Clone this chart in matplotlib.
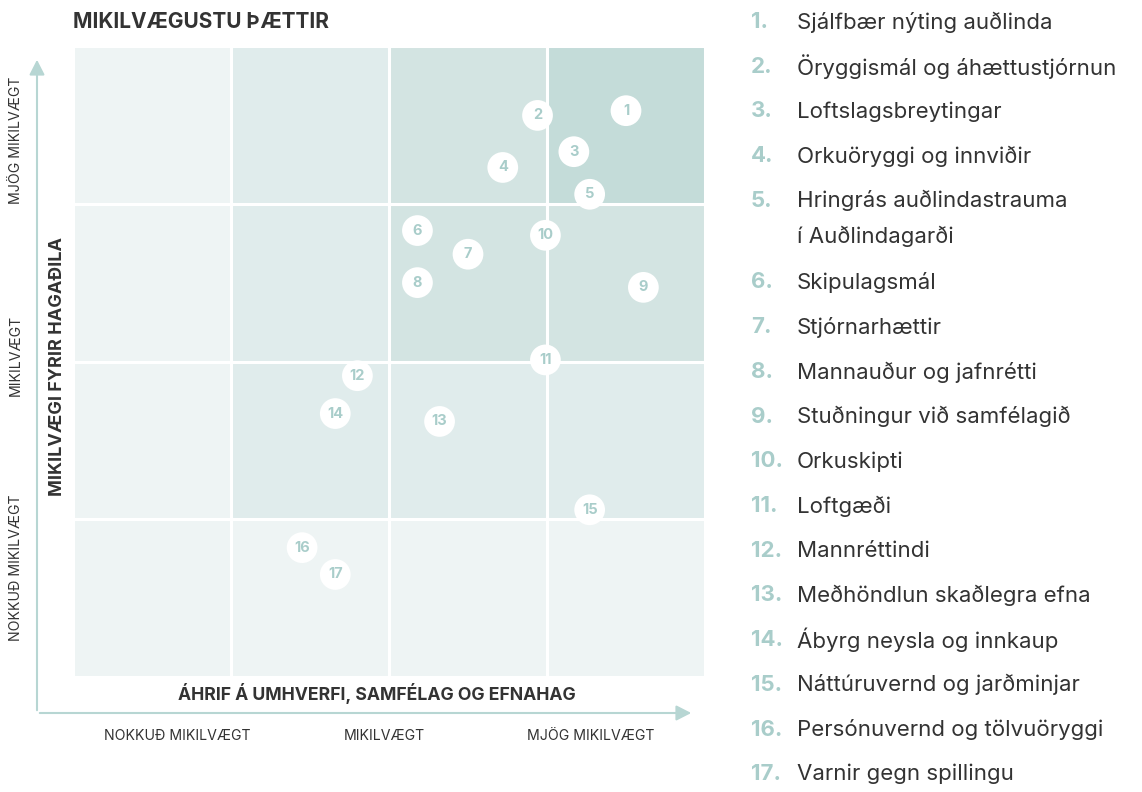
import matplotlib
matplotlib.use("Agg")
import matplotlib.pyplot as plt
from matplotlib.patches import Rectangle, FancyArrowPatch

plt.rcParams['font.family'] = ['Inter', 'DejaVu Sans']

# Gögn: staðsetning hvers þáttar (x = áhrif, y = mikilvægi fyrir hagaðila), kvarði 0-4
ids = list(range(1, 18))
impact = [3.50, 2.94, 3.17, 2.72, 3.27, 2.18, 2.50, 2.18, 3.61, 2.99,
          2.99, 1.80, 2.32, 1.66, 3.27, 1.45, 1.66]
stakeholder = [3.59, 3.56, 3.33, 3.23, 3.06, 2.83, 2.68, 2.50, 2.47, 2.80,
               2.01, 1.91, 1.62, 1.67, 1.06, 0.82, 0.65]
names = ["Sjálfbær nýting auðlinda", "Öryggismál og áhættustjórnun",
         "Loftslagsbreytingar", "Orkuöryggi og innviðir",
         "Hringrás auðlindastrauma\ní Auðlindagarði", "Skipulagsmál",
         "Stjórnarhættir", "Mannauður og jafnrétti", "Stuðningur við samfélagið",
         "Orkuskipti", "Loftgæði", "Mannréttindi", "Meðhöndlun skaðlegra efna",
         "Ábyrg neysla og innkaup", "Náttúruvernd og jarðminjar",
         "Persónuvernd og tölvuöryggi", "Varnir gegn spillingu"]
x_levels = ["NOKKUÐ MIKILVÆGT", "MIKILVÆGT", "MJÖG MIKILVÆGT"]
y_levels = ["NOKKUÐ MIKILVÆGT", "MIKILVÆGT", "MJÖG MIKILVÆGT"]

# litir reita eftir styrk (min af röð og dálki)
cell_colors = ["#eef4f4", "#e0ecec", "#d3e4e2", "#c4dcd9"]
teal = "#a9cdca"
arrow_col = "#b7d6d3"
dark = "#333333"

W, H = 1142, 792
fig = plt.figure(figsize=(W / 100, H / 100), dpi=100)


def fx(px):
    return px / W


def fy(py):
    return 1 - py / H


# aðalás fyrir fylkið
ax = fig.add_axes([fx(73), fy(677), fx(705) - fx(73), fy(46) - fy(677)])
ax.set_xlim(0, 4)
ax.set_ylim(0, 4)
ax.axis('off')

for r in range(4):
    for c in range(4):
        ax.add_patch(Rectangle((c, r), 1, 1, facecolor=cell_colors[min(r, c)],
                               edgecolor='white', linewidth=2.2, zorder=1))

ax.scatter(impact, stakeholder, s=490, color='white', edgecolors='none', zorder=3)
for i, x, y in zip(ids, impact, stakeholder):
    ax.text(x, y, str(i), ha='center', va='center', color=teal,
            fontsize=10.5, fontweight='bold', zorder=4)

# örvar
style = '-|>,head_length=4.5,head_width=2.3'
fig.add_artist(FancyArrowPatch(
    (fx(37), fy(713)), (fx(37), fy(57)), transform=fig.transFigure,
    arrowstyle=style, color=arrow_col, linewidth=1.5, mutation_scale=2))
fig.add_artist(FancyArrowPatch(
    (fx(37), fy(713)), (fx(694), fy(713)), transform=fig.transFigure,
    arrowstyle=style, color=arrow_col, linewidth=1.5, mutation_scale=2))

# titlar
fig.text(fx(73), fy(22), "MIKILVÆGUSTU ÞÆTTIR", ha='left', va='center',
         fontsize=15, fontweight='bold', color=dark)
fig.text(fx(58), fy(366), "MIKILVÆGI FYRIR HAGAÐILA", ha='center', va='center',
         rotation=90, fontsize=13, fontweight='bold', color=dark)
fig.text(fx(377), fy(694), "ÁHRIF Á UMHVERFI, SAMFÉLAG OG EFNAHAG", ha='center',
         va='center', fontsize=12.7, fontweight='bold', color=dark)

for lab, px in zip(x_levels, [177, 384, 591]):
    fig.text(fx(px), fy(736), lab, ha='center', va='center', fontsize=10.2,
             color=dark)
for lab, py in zip(y_levels, [568, 355, 140]):
    fig.text(fx(16), fy(py), lab, ha='center', va='center', rotation=90,
             fontsize=10.2, color=dark)

# skýringar
ypos = 22
for i, name in zip(ids, names):
    fig.text(fx(751), fy(ypos), f"{i}.", ha='left', va='center', fontsize=16,
             fontweight='bold', color=teal)
    lines = name.split("\n")
    for k, line in enumerate(lines):
        fig.text(fx(797), fy(ypos + 36 * k), line, ha='left', va='center',
                 fontsize=16, color=dark)
    ypos += 44.7 + 37 * (len(lines) - 1)

fig.savefig("out.png", dpi=100)
